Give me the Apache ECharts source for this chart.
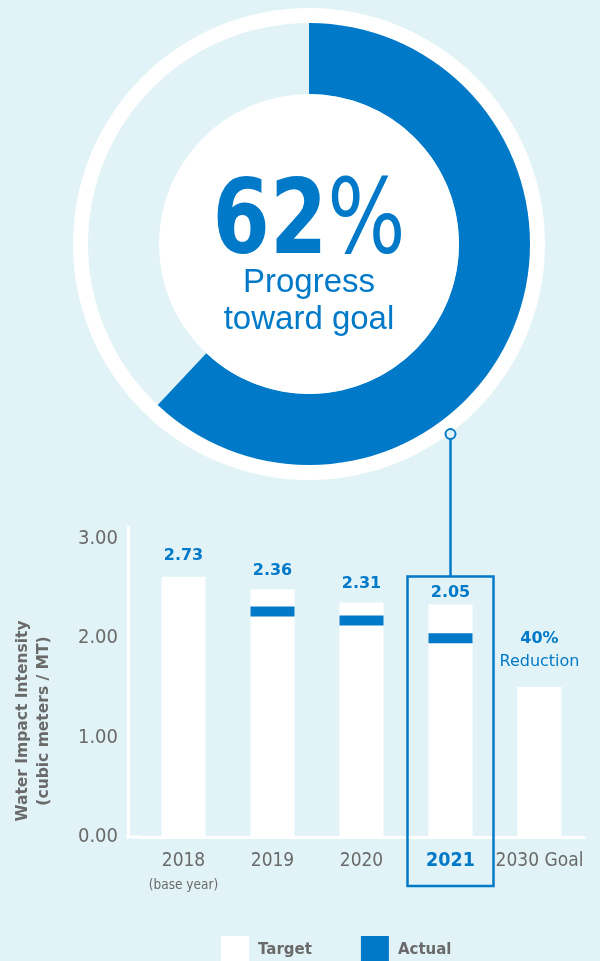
<!DOCTYPE html>
<html><head><meta charset="utf-8">
<script src="https://cdn.jsdelivr.net/npm/echarts@6/dist/echarts.min.js"></script>
<style>html,body{margin:0;padding:0;background:#e1f3f6}#c{width:600px;height:961px}</style>
</head><body><div id="c"></div>
<script>
// ---- data ----
const progressPct = [62];
const categories = ['2018', '2019', '2020', '2021', '2030 Goal'];
const targetValues = [2.62, 2.49, 2.36, 2.34, 1.51];
const actualValues = [null, 2.27, 2.18, 2.00, null];
const valueLabels = ['2.73', '2.36', '2.31', '2.05', '40%'];
const goalNote = 'Reduction';
const yTicks = [0, 1, 2, 3];
const axisTitle = ['Water Impact Intensity', '(cubic meters / MT)'];
const centerTexts = ['Progress', 'toward goal'];

// ---- styles ----
const BLUE = '#0079c8', BG = '#e1f3f6', GREY = '#6a6a6a';
const NARROW = "'Liberation Sans Narrow','DejaVu Sans Condensed',sans-serif";
const WIDE = "'DejaVu Sans',sans-serif";
const DC = [309, 244];

const chart = echarts.init(document.getElementById('c'));

const option = {
  backgroundColor: BG,
  animation: false,
  grid: { left: 139, right: 16, top: 527, bottom: 124 },
  xAxis: {
    type: 'category', data: categories,
    axisLine: { lineStyle: { color: '#fff', width: 3 } },
    axisTick: { show: false },
    axisLabel: {
      interval: 0, hideOverlap: false,
      margin: 12, color: GREY, fontFamily: NARROW, fontSize: 19, lineHeight: 24,
      formatter: v => v === '2018' ? '2018\n{s|(base year)}' : (v === '2021' ? '{h|2021}' : v),
      rich: {
        s: { fontSize: 13.5, color: GREY, fontFamily: NARROW, lineHeight: 24 },
        h: { fontSize: 19.5, fontWeight: 'bold', color: BLUE, fontFamily: NARROW, lineHeight: 24 }
      }
    }
  },
  yAxis: {
    type: 'value', min: 0, max: 3.12, interval: 1, offset: 11,
    axisLine: { show: true, lineStyle: { color: '#fff', width: 3 } },
    splitLine: { show: false }, axisTick: { show: false },
    axisLabel: {
      margin: 10, color: GREY, fontFamily: NARROW, fontSize: 20,
      formatter: v => yTicks.includes(v) ? v.toFixed(2) : ''
    }
  },
  legend: {
    data: ['Target', 'Actual'], left: 216, top: 931, itemWidth: 28, itemHeight: 28,
    itemGap: 49, icon: 'rect',
    textStyle: { color: GREY, fontFamily: WIDE, fontWeight: 'bold', fontSize: 15, padding: [0, 0, 0, 4] }
  },
  series: [
    { type: 'pie', radius: [221, 236], center: DC, silent: true, label: { show: false },
      itemStyle: { color: '#fff', borderWidth: 0 }, data: [{ value: 1, name: 'ring' }] },
    { type: 'pie', radius: [150, 221], center: DC, silent: true, startAngle: 90, clockwise: true,
      label: { show: false }, itemStyle: { borderWidth: 0 },
      data: [
        { value: progressPct[0], name: 'done', itemStyle: { color: BLUE } },
        { value: 100 - progressPct[0], name: 'rest', itemStyle: { color: 'rgba(0,0,0,0)' } }
      ] },
    { type: 'pie', radius: [0, 150], center: DC, silent: true, label: { show: false },
      itemStyle: { color: '#fff', borderWidth: 0 }, data: [{ value: 1, name: 'disk' }] },
    {
      name: 'Target', type: 'bar', barWidth: 44, itemStyle: { color: '#fff' },
      label: {
        show: true, position: 'top', distance: 11, color: BLUE, fontFamily: WIDE,
        fontWeight: 'bold', fontSize: 16,
        formatter: p => p.dataIndex === 4 ? '{p|' + valueLabels[4] + '}\n{r|' + goalNote + '}' : valueLabels[p.dataIndex],
        rich: {
          p: { color: BLUE, fontFamily: WIDE, fontWeight: 'bold', fontSize: 16, lineHeight: 23 },
          r: { color: BLUE, fontFamily: WIDE, fontWeight: 'normal', fontSize: 16, lineHeight: 23 }
        }
      },
      data: targetValues.map((v, i) => ({
        value: v,
        label: { distance: i === 0 ? 13 : (i === 3 ? 4 : (i === 4 ? 14 : 11)) }
      }))
    },
    {
      name: 'Actual', type: 'scatter', symbol: 'rect', symbolSize: [44, 10], z: 5,
      itemStyle: { color: BLUE, opacity: 1 }, data: actualValues
    }
  ]
};
chart.setOption(option);

// decorations positioned from the library's scales
const x21 = chart.convertToPixel({ xAxisIndex: 0 }, '2021');
const yTop = chart.convertToPixel({ yAxisIndex: 0 }, targetValues[3]);
const y0 = chart.convertToPixel({ yAxisIndex: 0 }, 0);
const R = 237;
const cy = DC[1] + Math.sqrt(R * R - (x21 - DC[0]) * (x21 - DC[0]));
const boxTop = yTop - 28;

chart.setOption({
  graphic: [
    { type: 'rect', shape: { x: 126.5, y: y0 - 1.5, width: 14, height: 3 }, style: { fill: '#fff' }, z: 10 },
    { type: 'rect', shape: { x: x21 - 43, y: boxTop, width: 86, height: y0 + 49 - boxTop },
      style: { fill: 'none', stroke: BLUE, lineWidth: 2.5 }, z: 10 },
    { type: 'line', shape: { x1: x21, y1: cy + 5, x2: x21, y2: boxTop },
      style: { stroke: BLUE, lineWidth: 2.5 }, z: 10 },
    { type: 'circle', shape: { cx: x21, cy: cy, r: 5 }, style: { fill: BG, stroke: BLUE, lineWidth: 2 }, z: 10 },
    { type: 'text', x: DC[0], y: 226, scaleX: 0.88, z: 10,
      style: { text: '{a|' + progressPct[0] + '}{b|%}', align: 'center', verticalAlign: 'middle',
        rich: {
          a: { fontFamily: NARROW, fontWeight: 'bold', fontSize: 104, fill: BLUE, color: BLUE },
          b: { fontFamily: NARROW, fontWeight: 'normal', fontSize: 104, fill: BLUE, color: BLUE }
        } } },
    { type: 'text', x: DC[0], y: 283, z: 10,
      style: { text: centerTexts[0], align: 'center', verticalAlign: 'middle',
        font: "33px 'Liberation Sans',sans-serif", fill: BLUE } },
    { type: 'text', x: DC[0], y: 320, z: 10,
      style: { text: centerTexts[1], align: 'center', verticalAlign: 'middle',
        font: "33px 'Liberation Sans',sans-serif", fill: BLUE } },
    { type: 'text', x: 33, y: 721, rotation: Math.PI / 2, z: 10,
      style: { text: axisTitle.join('\n'), align: 'center', verticalAlign: 'middle', lineHeight: 21,
        font: "bold 15.5px 'DejaVu Sans',sans-serif", fill: GREY } }
  ]
});
</script></body></html>
